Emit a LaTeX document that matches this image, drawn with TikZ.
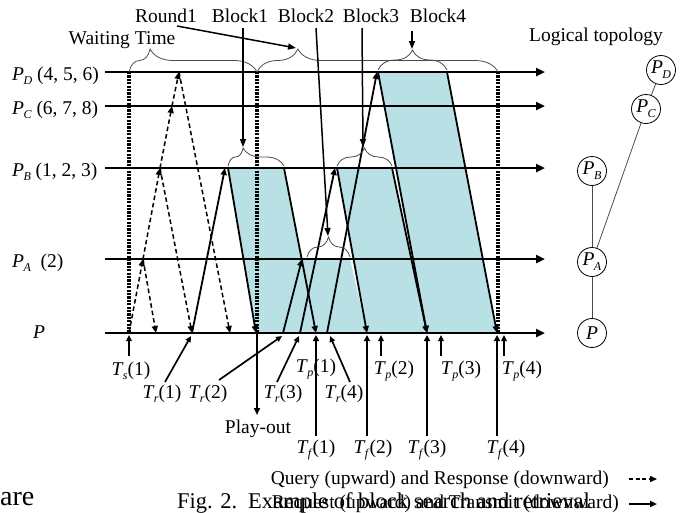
\documentclass[tikz,border=0pt]{standalone}
\usepackage{fontspec}
\setmainfont{Liberation Serif}
\usetikzlibrary{arrows.meta,decorations.pathreplacing}
\definecolor{blkshade}{RGB}{185,224,228}
\newcommand{\Sb}[2]{\textit{#1}\kern-0.6pt\raisebox{-0.55ex}{\fontsize{12}{12}\selectfont\textit{#2}}}
\begin{document}
\begin{tikzpicture}[x=1pt,y=-1pt, font=\fontsize{19.5}{22}\selectfont,
  hline/.style={line width=2.4pt, -{Triangle[length=9pt,width=8pt]}},
  dotv/.style={line width=3.4pt, dash pattern=on 2.2pt off 1.2pt},
  tx/.style={line width=1.8pt, -{Triangle[length=7pt,width=6pt]}},
  qy/.style={line width=1.5pt, dash pattern=on 4.5pt off 3pt, -{Triangle[length=7pt,width=6pt]}},
  labarr/.style={line width=1.7pt, -{Triangle[length=6pt,width=5.5pt]}},
  tfarr/.style={line width=2.4pt, -{Triangle[length=6pt,width=6pt]}},
  tparr/.style={line width=1.2pt, -{Triangle[length=6pt,width=5.5pt]}},
  ptr/.style={line width=1.5pt, -{Triangle[length=8pt,width=6pt]}},
  lbl/.style={inner sep=0pt},
  brc/.style={decorate, line width=0.8pt, draw=black!70},
  tnode/.style={circle, draw, line width=0.8pt, minimum size=29pt, inner sep=0pt},
  tlink/.style={line width=0.8pt, draw=black!70}]
\useasboundingbox (0,0) rectangle (684,512);

% shaded transmission regions
\fill[blkshade] (228,168) -- (284,168) -- (316,333) -- (256,333) -- cycle;
\fill[blkshade] (302,259) -- (350,259) -- (367,333) -- (316,333) -- cycle;
\fill[blkshade] (337,168) -- (392,168) -- (427,333) -- (367,333) -- cycle;
\fill[blkshade] (378,72) -- (447,72) -- (497,333) -- (427,333) -- cycle;

% peer time lines
\foreach \n/\y in {D/72,C/106,B/168,A/259,P/333}{
  \coordinate (L\n) at (105,\y);
  \coordinate (R\n) at (545,\y);
  \draw[hline] (L\n) -- (R\n);
}

% left labels
\node[lbl, anchor=base west] (labD) at (12,80) {\Sb{P}{D} (4, 5, 6)};
\node[lbl, anchor=base west] (labC) at (12,114) {\Sb{P}{C} (6, 7, 8)};
\node[lbl, anchor=base west] (labB) at (12,176) {\Sb{P}{B} (1, 2, 3)};
\node[lbl, anchor=base west] (labA) at (12,267) {\Sb{P}{A}\ \ (2)};
\node[lbl, anchor=base west] (labP) at (33,338) {\textit{P}};

% dotted vertical markers
\coordinate (v1t) at (129,72);  \coordinate (v1b) at (129,333);
\coordinate (v2t) at (257,72);  \coordinate (v2b) at (257,333);
\coordinate (v3t) at (498,72);  \coordinate (v3b) at (498,333);
\draw[dotv] (v1t) -- (v1b);
\draw[dotv] (v2t) -- (v2b);
\draw[dotv] (v3t) -- (v3b);

% queries (dashed up) and responses (dashed down)
\coordinate (q0) at (129,333);
\coordinate (q1) at (143,259);
\coordinate (q2) at (160,168);
\coordinate (q3) at (172,106);
\coordinate (q4) at (179,72);
\draw[qy] (q0) -- (q1);
\draw[qy] (q1) -- (q2);
\draw[qy] (q2) -- (q3);
\draw[qy] (q3) -- (q4);
\coordinate (s1) at (156,333);
\coordinate (s2) at (192,333);
\coordinate (s3) at (230,333);
\draw[qy] (q1) -- (s1);
\draw[qy] (q2) -- (s2);
\draw[qy] (q4) -- (s3);

% requests (solid up)
\coordinate (r1a) at (192,333); \coordinate (r1b) at (225,168);
\coordinate (r2a) at (283,333); \coordinate (r2b) at (302,259);
\coordinate (r3a) at (300,333); \coordinate (r3b) at (335,168);
\coordinate (r4a) at (327,333); \coordinate (r4b) at (377,72);
\draw[tx] (r1a) -- (r1b);
\draw[tx] (r2a) -- (r2b);
\draw[tx] (r3a) -- (r3b);
\draw[tx] (r4a) -- (r4b);

% transmissions (solid down)
\coordinate (b1a) at (228,168); \coordinate (b1b) at (256,333);
\coordinate (b1c) at (284,168); \coordinate (b1d) at (316,333);
\coordinate (b3a) at (337,168); \coordinate (b3b) at (367,333);
\coordinate (b3c) at (392,168); \coordinate (b3d) at (427,333);
\coordinate (b4a) at (378,72);  \coordinate (b4b) at (427,333);
\coordinate (b4c) at (447,72);  \coordinate (b4d) at (497,333);
\draw[tx] (b1a) -- (b1b);
\draw[tx] (b1c) -- (b1d);
\draw[tx] (b3a) -- (b3b);
\draw[tx] (b3c) -- (b3d);
\draw[tx] (b4a) -- (b4b);
\draw[tx] (b4c) -- (b4d);

% play-out
\coordinate (pl) at (257,415);
\draw[tx] (v2b) -- (pl);
\node[lbl, anchor=base] (playout) at (258,433) {Play-out};

% braces
\draw[brc, decoration={brace, amplitude=23pt, aspect=0.165}] (v1t) -- (v2t);
\draw[brc, decoration={brace, amplitude=23pt, aspect=0.17}] (v2t) -- (v3t);
\draw[brc, decoration={brace, amplitude=18pt, aspect=0.27}] (228,166) -- (284,166);
\draw[brc, decoration={brace, amplitude=18pt, aspect=0.5}] (337,166) -- (392,166);
\draw[brc, decoration={brace, amplitude=20pt, aspect=0.5}] (307,257) -- (350,257);
\draw[brc, decoration={brace, amplitude=20pt, aspect=0.5}] (378,70) -- (447,70);

% top labels and pointers
\node[lbl, anchor=base] (wait) at (122,44) {Waiting Time};
\node[lbl, anchor=base] (round) at (166,22) {Round1};
\node[lbl, anchor=base] (blk1) at (240,22) {Block1};
\node[lbl, anchor=base] (blk2) at (306,22) {Block2};
\node[lbl, anchor=base] (blk3) at (371,22) {Block3};
\node[lbl, anchor=base] (blk4) at (438,22) {Block4};
\coordinate (rt) at (296,48);
\coordinate (b1t) at (243,147);
\coordinate (b2t) at (328,236);
\coordinate (b3t) at (363,147);
\coordinate (b4t) at (412,49);
\draw[ptr] (177,26) -- (rt);
\draw[ptr] (243,28) -- (b1t);
\draw[ptr] (316,28) -- (b2t);
\draw[ptr] (362,28) -- (b3t);
\draw[ptr] (412,31) -- (b4t);

% time labels below P
\node[lbl, anchor=base] (ts1) at (131,375) {\Sb{T}{s}(1)};
\node[lbl, anchor=base] (tr1) at (162,398) {\Sb{T}{r}(1)};
\node[lbl, anchor=base] (tr2) at (208,398) {\Sb{T}{r}(2)};
\node[lbl, anchor=base] (tr3) at (283,398) {\Sb{T}{r}(3)};
\node[lbl, anchor=base] (tr4) at (344,398) {\Sb{T}{r}(4)};
\node[lbl, anchor=base] (tp1) at (316,372) {\Sb{T}{p}(1)};
\node[lbl, anchor=base] (tp2) at (394,374) {\Sb{T}{p}(2)};
\node[lbl, anchor=base] (tp3) at (461,374) {\Sb{T}{p}(3)};
\node[lbl, anchor=base] (tp4) at (522,374) {\Sb{T}{p}(4)};
\node[lbl, anchor=base] (tf1) at (316,453) {\Sb{T}{f}(1)};
\node[lbl, anchor=base] (tf2) at (373,453) {\Sb{T}{f}(2)};
\node[lbl, anchor=base] (tf3) at (427,453) {\Sb{T}{f}(3)};
\node[lbl, anchor=base] (tf4) at (506,453) {\Sb{T}{f}(4)};

\draw[labarr] (129,356) -- (129,335);
\draw[labarr] (165,382) -- (191,336);
\draw[labarr] (219,380) -- (282,336);
\draw[labarr] (277,382) -- (299,336);
\draw[labarr] (350,382) -- (330,336);
\draw[tfarr] (316,436) -- (316,335);
\draw[tfarr] (367,436) -- (367,335);
\draw[tfarr] (427,436) -- (427,335);
\draw[tfarr] (497,436) -- (497,335);
\draw[tparr] (381,356) -- (381,335);
\draw[tparr] (441,356) -- (441,335);
\draw[tparr] (504,356) -- (504,335);

% logical topology
\node[lbl, anchor=base] (logtop) at (596,41) {Logical topology};
\node[tnode] (tD) at (661,70) {\Sb{P}{D}};
\node[tnode] (tC) at (646,109) {\Sb{P}{C}};
\node[tnode] (tB) at (592,171) {\Sb{P}{B}};
\node[tnode] (tA) at (592,262) {\Sb{P}{A}};
\node[tnode] (tP) at (592,333) {\textit{P}};
\draw[tlink] (tB) -- (tA);
\draw[tlink] (tA) -- (tP);
\draw[tlink] (tA) -- (tC);
\draw[tlink] (tC) -- (tD);

% legend
\node[lbl, anchor=base east] (legq) at (609,484) {Query (upward) and Response (downward)};
\coordinate (lq1) at (629,479); \coordinate (lq2) at (657,479);
\draw[qy, dash pattern=on 4pt off 2.5pt] (lq1) -- (lq2);
\node[lbl, anchor=base east] (legr) at (619,508) {Request (upward) and Transmit (downward)};
\coordinate (lr1) at (629,504); \coordinate (lr2) at (657,504);
\draw[tx] (lr1) -- (lr2);

% caption fragments
\node[lbl, anchor=base west, font=\fontsize{22.5}{24}\selectfont] (fig) at (177,508) {Fig. 2.};
\node[lbl, anchor=base west, font=\fontsize{22.5}{24}\selectfont] (cap) at (248,508) {Example of block search and retrieval};
\node[lbl, anchor=base west, font=\fontsize{28}{30}\selectfont] (are) at (0,505) {are};
\end{tikzpicture}
\end{document}
